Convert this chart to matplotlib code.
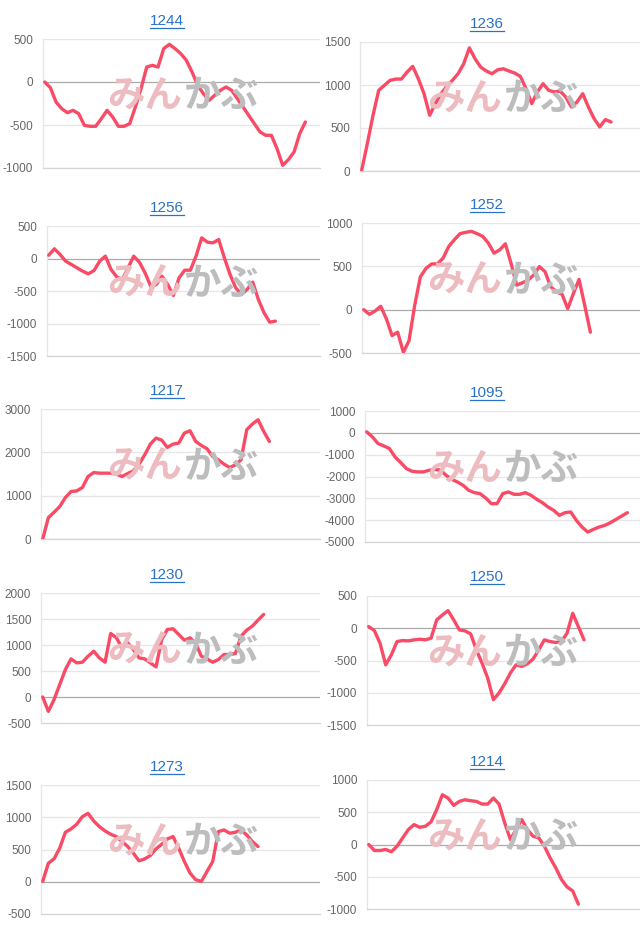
import matplotlib.pyplot as plt
from matplotlib.lines import Line2D
import numpy as np

# --- data (one value per trading day) ---
titles = ['1244', '1236', '1256', '1252', '1217', '1095', '1230', '1250', '1273', '1214']

s1244 = [0, -66, -233, -310, -357, -330, -368, -504, -515, -515, -426, -330, -407, -515,
         -515, -485, -290, -78, 174, 194, 174, 388, 438, 388, 330, 252, 116, -39, -136,
         -213, -155, -97, -58, -97, -194, -290, -388, -485, -581, -620, -620, -775, -969,
         -903, -814, -601, -465]
s1236 = [10, 320, 648, 938, 996, 1054, 1069, 1069, 1150, 1216, 1073, 899, 648, 784, 899,
         984, 1054, 1131, 1247, 1432, 1305, 1208, 1162, 1131, 1177, 1189, 1162, 1139, 1100,
         957, 784, 919, 1015, 938, 919, 930, 861, 745, 803, 899, 745, 610, 513, 598, 570]
s1256 = [50, 149, 62, -41, -92, -144, -195, -236, -185, -41, 36, -169, -282, -323, -144,
         36, -56, -221, -426, -400, -272, -400, -569, -298, -180, -180, 36, 318, 251, 241,
         292, 10, -246, -451, -554, -477, -364, -631, -836, -980, -964]
s1252 = [0, -54, -16, 39, -105, -299, -260, -493, -357, 50, 380, 477, 528, 528, 594, 729,
         807, 877, 892, 904, 877, 846, 768, 652, 690, 760, 535, 283, 310, 341, 400, 497,
         438, 264, 206, 178, 12, 186, 349, 50, -260]
s1217 = [0, 493, 617, 748, 956, 1095, 1110, 1187, 1442, 1534, 1519, 1519, 1519, 1496,
         1442, 1511, 1573, 1727, 1943, 2190, 2328, 2282, 2113, 2190, 2213, 2444, 2498,
         2251, 2159, 2082, 1904, 1827, 1727, 1650, 1711, 1827, 2521, 2652, 2752, 2483, 2251]
s1095 = [46, -184, -490, -597, -719, -1102, -1362, -1637, -1760, -1790, -1790, -1714,
         -1683, -1698, -1943, -2127, -2249, -2402, -2632, -2739, -2785, -2984, -3244, -3244,
         -2785, -2708, -2815, -2815, -2739, -2861, -3045, -3198, -3397, -3550, -3779, -3657,
         -3626, -4009, -4315, -4544, -4422, -4315, -4238, -4116, -3963, -3810, -3657]
s1230 = [0, -276, -51, 238, 527, 733, 656, 669, 784, 881, 752, 669, 1222, 1138, 945, 1042,
         913, 752, 733, 656, 579, 1106, 1299, 1312, 1202, 1093, 1138, 1029, 784, 733, 669,
         720, 817, 817, 836, 1170, 1286, 1363, 1479, 1588]
s1250 = [26, -36, -232, -567, -412, -206, -191, -196, -180, -170, -180, -154, 129, 206, 273,
         129, -26, -41, -88, -335, -541, -773, -1107, -1004, -860, -695, -567, -592, -551,
         -479, -335, -180, -206, -221, -206, -77, 232, 26, -180]
s1273 = [5, 288, 355, 520, 767, 819, 891, 1009, 1061, 942, 855, 788, 736, 700, 623, 546,
         443, 324, 355, 407, 510, 582, 664, 700, 520, 314, 134, 31, 5, 160, 314, 778, 803,
         752, 767, 803, 726, 623, 546]
s1214 = [0, -93, -93, -77, -113, -26, 103, 231, 308, 267, 283, 350, 540, 771, 720, 607, 668,
         694, 678, 668, 627, 627, 720, 627, 334, 77, 231, 386, 231, 129, 103, -26, -206, -360,
         -540, -658, -720, -925]

series = [s1244, s1236, s1256, s1252, s1217, s1095, s1230, s1250, s1273, s1214]

yticks = [
    [-1000, -500, 0, 500],
    [0, 500, 1000, 1500],
    [-1500, -1000, -500, 0, 500],
    [-500, 0, 500, 1000],
    [0, 1000, 2000, 3000],
    [-5000, -4000, -3000, -2000, -1000, 0, 1000],
    [-500, 0, 500, 1000, 1500, 2000],
    [-1500, -1000, -500, 0, 500],
    [-500, 0, 500, 1000, 1500],
    [-1000, -500, 0, 500, 1000],
]

# --- layout in pixels ---
W, H = 640, 931
ax_left = [43, 40, 47, 42, 41, 45, 41, 47, 41, 47]
ax_top = [39, 42, 226, 223, 409, 411, 593, 596, 785, 780]
ax_bot = [168, 171, 356, 353, 539, 542, 723, 725, 914, 909]
title_y = [21, 24, 208, 205, 391, 393, 575, 577, 767, 762]
slot_px = 5.667

line_color = '#f94a66'
title_color = '#2a72c8'

plt.rcParams['font.family'] = ['Liberation Sans', 'DejaVu Sans']

fig = plt.figure(figsize=(W / 100, H / 100), dpi=100)

title_texts = []
for i, (name, vals, ticks) in enumerate(zip(titles, series, yticks)):
    col = i % 2
    x0 = col * 320
    l = x0 + ax_left[i]
    r = x0 + 320
    ax = fig.add_axes([l / W, 1 - ax_bot[i] / H, (r - l) / W, (ax_bot[i] - ax_top[i]) / H])

    x = np.arange(len(vals))
    ax.plot(x, vals, color=line_color, linewidth=2.4, solid_joinstyle='round',
            solid_capstyle='round', zorder=3)
    ax.set_xlim(-0.3, (r - l) / slot_px - 0.3)
    ax.set_ylim(ticks[0], ticks[-1])
    ax.set_yticks(ticks)
    ax.set_yticklabels([str(t) for t in ticks])
    ax.set_xticks([])
    ax.tick_params(axis='y', length=0, pad=7, labelsize=8.5, labelcolor='#666666')
    for t in ticks:
        if t == 0:
            ax.axhline(0, color='#aaaaaa', linewidth=0.9, zorder=2)
        else:
            ax.axhline(t, color='#e6e6e6', linewidth=0.9, zorder=1)
    for side in ['top', 'right']:
        ax.spines[side].set_visible(False)
    ax.spines['left'].set_color('#e6e6e6')
    ax.spines['bottom'].set_color('#d5d5d5')
    ax.spines['left'].set_linewidth(0.9)
    ax.spines['bottom'].set_linewidth(0.9)
    ax.set_facecolor('none')

    # watermark
    wy = 1 - (ax_top[i] + 0.44 * (ax_bot[i] - ax_top[i])) / H
    fig.text((x0 + 182) / W, wy, 'みん', color='#ecbcc0', fontsize=27, fontweight='bold',
             family=['Noto Sans CJK JP'], ha='right', va='center', zorder=0)
    fig.text((x0 + 184) / W, wy, 'かぶ', color='#bdbdbd', fontsize=27, fontweight='bold',
             family=['Noto Sans CJK JP'], ha='left', va='center', zorder=0)

    t = fig.text((x0 + 167) / W, 1 - title_y[i] / H, name, color=title_color,
                 fontsize=11, ha='center', va='center')
    title_texts.append(t)

# underline the titles (they are links in the original page)
fig.canvas.draw()
renderer = fig.canvas.get_renderer()
for t in title_texts:
    bb = t.get_window_extent(renderer)
    y = (bb.y0 + 0.5) / H
    fig.add_artist(Line2D([bb.x0 / W, bb.x1 / W], [y, y], color=title_color, linewidth=0.9))

fig.savefig('out.png', dpi=100)
